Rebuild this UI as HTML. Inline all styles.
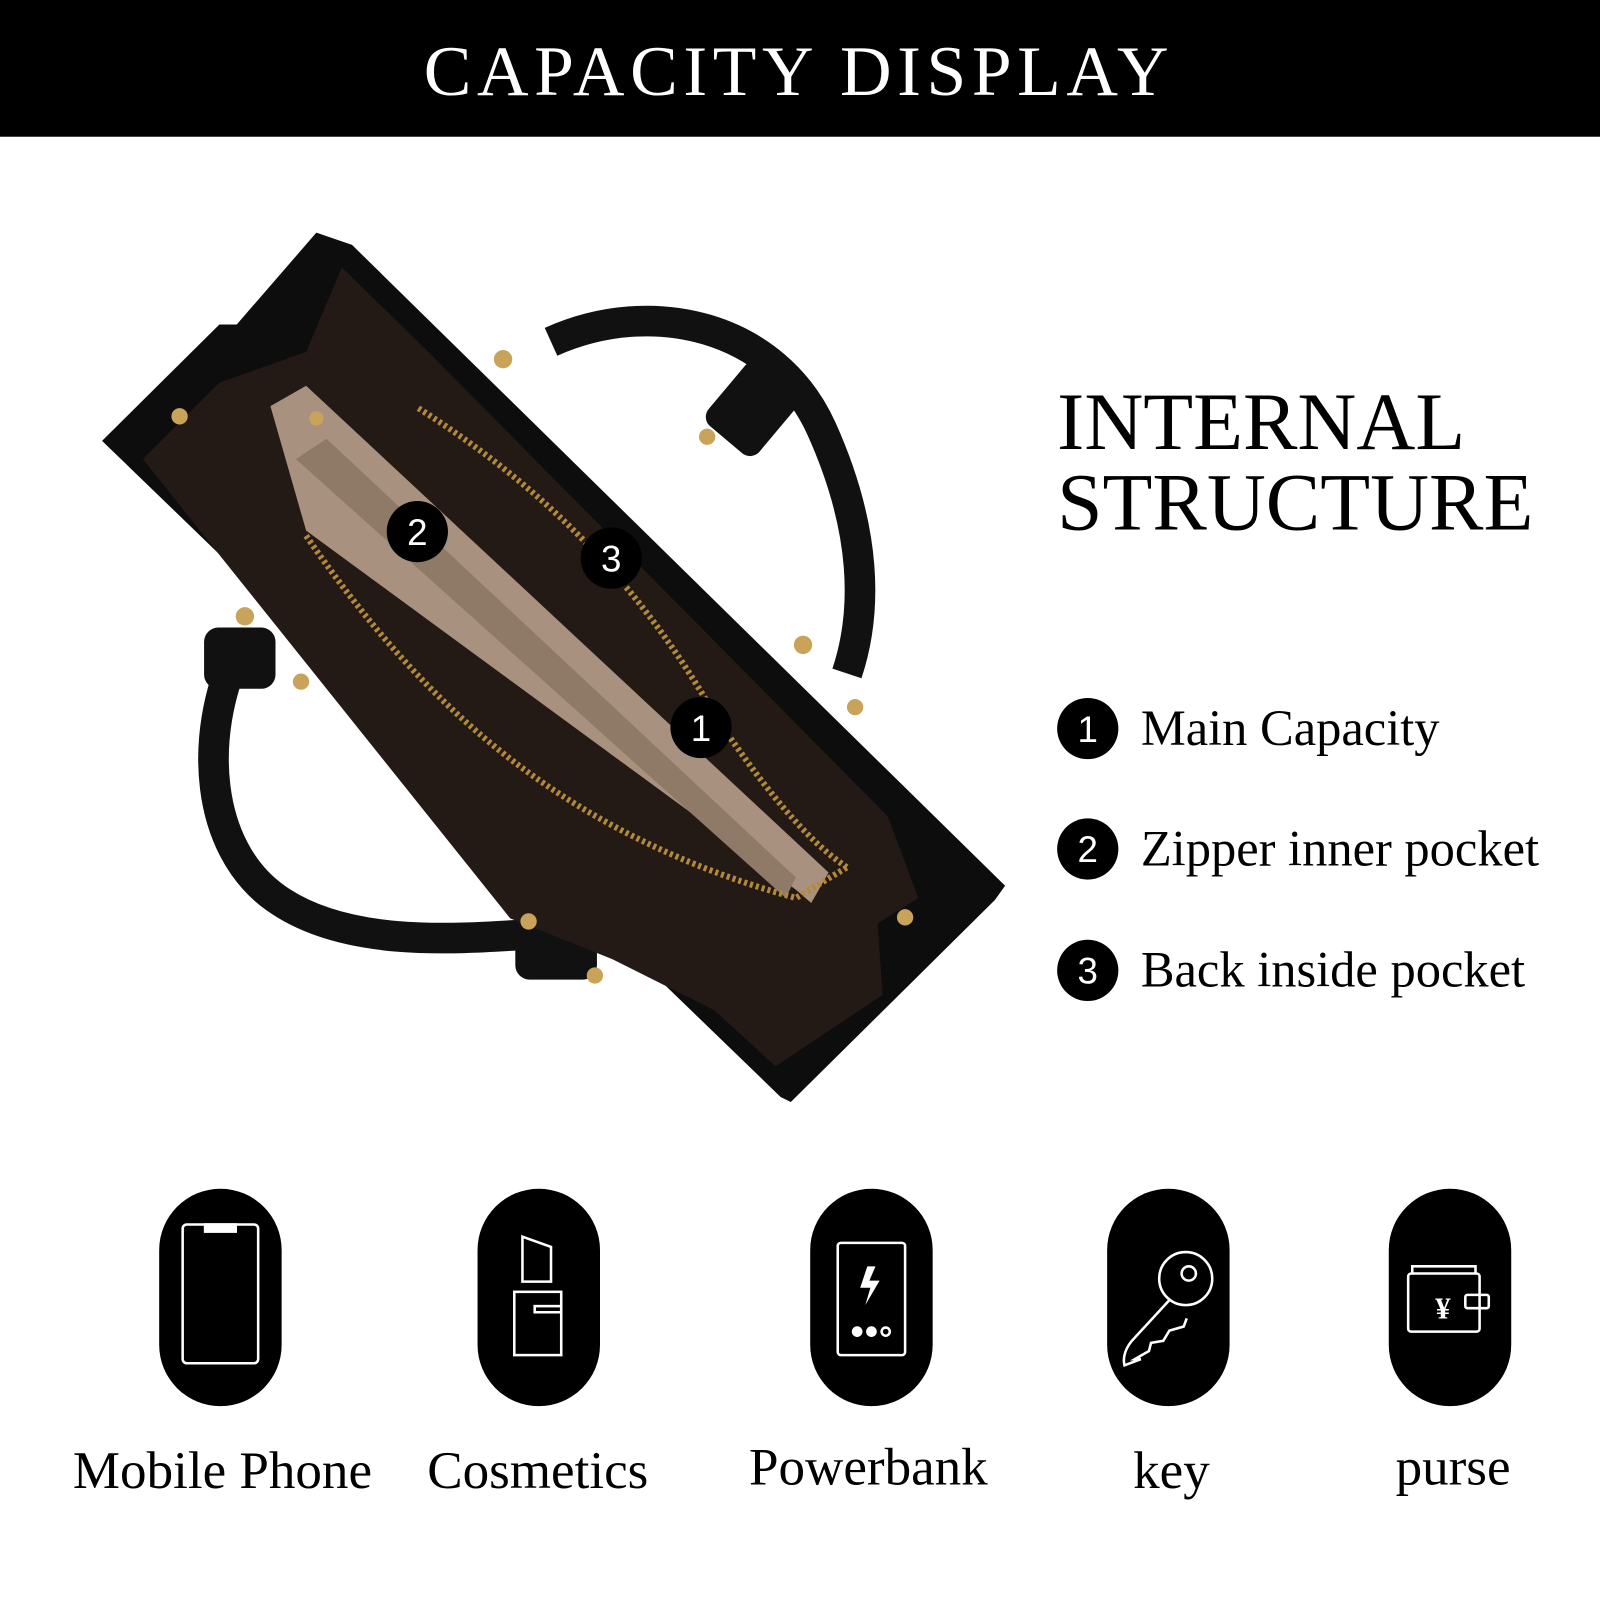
<!DOCTYPE html>
<html><head><meta charset="utf-8"><style>
html,body{margin:0;padding:0;background:#fff;}
svg{display:block}
text{font-family:"Liberation Serif",serif;}
.n{font-family:"Liberation Sans",sans-serif;font-size:36px;fill:#fff;text-anchor:middle}
</style></head><body>
<svg width="1600" height="1600" viewBox="0 0 1568 1568" xmlns="http://www.w3.org/2000/svg">
<rect x="0" y="0" width="1568" height="134" fill="#000"/>
<text x="783" y="93" font-size="70" fill="#fff" text-anchor="middle" letter-spacing="5.5">CAPACITY DISPLAY</text>

<g>
<path d="M540,335 C640,290 760,320 805,420 C850,520 850,600 830,660" fill="none" stroke="#111" stroke-width="30"/>
<path d="M232,640 C195,720 200,830 270,880 C340,930 450,920 530,915" fill="none" stroke="#111" stroke-width="30"/>
<rect x="705" y="360" width="65" height="80" rx="12" fill="#111" transform="rotate(40 737 400)"/>
<rect x="200" y="615" width="70" height="60" rx="14" fill="#111"/>
<rect x="505" y="905" width="80" height="55" rx="14" fill="#111"/>
<polygon points="310,228 345,240 985,868 975,882 775,1080 765,1075 100,432 215,318 232,318" fill="#0d0d0d"/>
<polygon points="140,450 215,375 300,345 335,262 420,345 870,800 900,880 860,905 865,975 760,1045 700,990 600,940 500,900" fill="#231915"/>
<polygon points="265,398 300,378 812,855 795,885 780,872 300,520" fill="#a8927f"/>
<polygon points="290,450 320,430 780,860 770,880" fill="#8f7a68"/>
<path d="M300,525 C420,700 560,820 780,880 L830,850" fill="none" stroke="#b38a3a" stroke-width="6" stroke-dasharray="3 3"/>
<path d="M410,400 C520,470 620,560 700,700 C760,790 800,830 830,850" fill="none" stroke="#b38a3a" stroke-width="6" stroke-dasharray="3 3"/>
<g fill="#c9a35a">
<circle cx="493" cy="352" r="9"/><circle cx="693" cy="428" r="8"/><circle cx="787" cy="632" r="9"/>
<circle cx="838" cy="693" r="8"/><circle cx="887" cy="899" r="8"/><circle cx="240" cy="604" r="9"/>
<circle cx="295" cy="668" r="8"/><circle cx="518" cy="903" r="8"/><circle cx="583" cy="956" r="8"/>
<circle cx="176" cy="408" r="8"/><circle cx="310" cy="410" r="7"/>
</g>
<circle cx="409" cy="521" r="30" fill="#000"/><text class="n" x="409" y="534">2</text>
<circle cx="599" cy="547" r="30" fill="#000"/><text class="n" x="599" y="560">3</text>
<circle cx="687" cy="713" r="30" fill="#000"/><text class="n" x="687" y="726">1</text>
</g>

<text x="1036" y="440" font-size="80" fill="#000">INTERNAL</text>
<text x="1036" y="519" font-size="80" fill="#000">STRUCTURE</text>
<circle cx="1066" cy="714" r="30" fill="#000"/><text class="n" x="1066" y="727">1</text>
<circle cx="1066" cy="832" r="30" fill="#000"/><text class="n" x="1066" y="845">2</text>
<circle cx="1066" cy="951" r="30" fill="#000"/><text class="n" x="1066" y="964">3</text>
<text x="1118" y="730" font-size="49.5">Main Capacity</text>
<text x="1118" y="848" font-size="49.5">Zipper inner pocket</text>
<text x="1118" y="967" font-size="49.5">Back inside pocket</text>

<g fill="#000">
<rect x="156" y="1165" width="120" height="213" rx="60"/>
<rect x="468" y="1165" width="120" height="213" rx="60"/>
<rect x="794" y="1165" width="120" height="213" rx="60"/>
<rect x="1085" y="1165" width="120" height="213" rx="60"/>
<rect x="1361" y="1165" width="120" height="213" rx="60"/>
</g>
<g fill="none" stroke="#fff" stroke-width="2.5">
<rect x="179" y="1200" width="74" height="136" rx="4"/>
<rect x="201" y="1200" width="30" height="7" fill="#fff"/>
<path d="M512,1212 L540,1222 L540,1256 L512,1256 Z"/>
<rect x="504" y="1266" width="46" height="62"/>
<rect x="524" y="1280" width="26" height="6"/>
<rect x="821" y="1218" width="66" height="110" rx="3"/>
<path d="M850,1241 L843,1262 L853,1262 L848,1279 L862,1255 L852,1255 L858,1241 Z" fill="#fff" stroke="none"/>
<circle cx="840" cy="1305" r="4" fill="#fff"/><circle cx="854" cy="1305" r="4" fill="#fff"/><circle cx="868" cy="1305" r="4"/>
<circle cx="1162" cy="1253" r="26"/>
<circle cx="1165" cy="1248" r="7"/>
<path d="M1147,1273 L1112,1311 C1103,1320 1100,1330 1102,1338 L1118,1332 L1112,1332 L1126,1324 L1128,1316 L1140,1314 L1146,1304 L1160,1300 L1163,1292"/>
<rect x="1380" y="1248" width="70" height="57" rx="3"/>
<path d="M1384,1248 L1384,1241 L1446,1241 L1446,1248"/>
<rect x="1436" y="1269" width="23" height="13" rx="2"/>
</g>
<text x="1414" y="1292" font-size="30" fill="#fff" text-anchor="middle" font-family="Liberation Sans,sans-serif" font-weight="bold">¥</text>

<g font-size="52" text-anchor="middle" fill="#000">
<text x="218" y="1458">Mobile Phone</text>
<text x="527" y="1458">Cosmetics</text>
<text x="851" y="1455">Powerbank</text>
<text x="1148" y="1458">key</text>
<text x="1424" y="1455">purse</text>
</g>
</svg>
</body></html>
